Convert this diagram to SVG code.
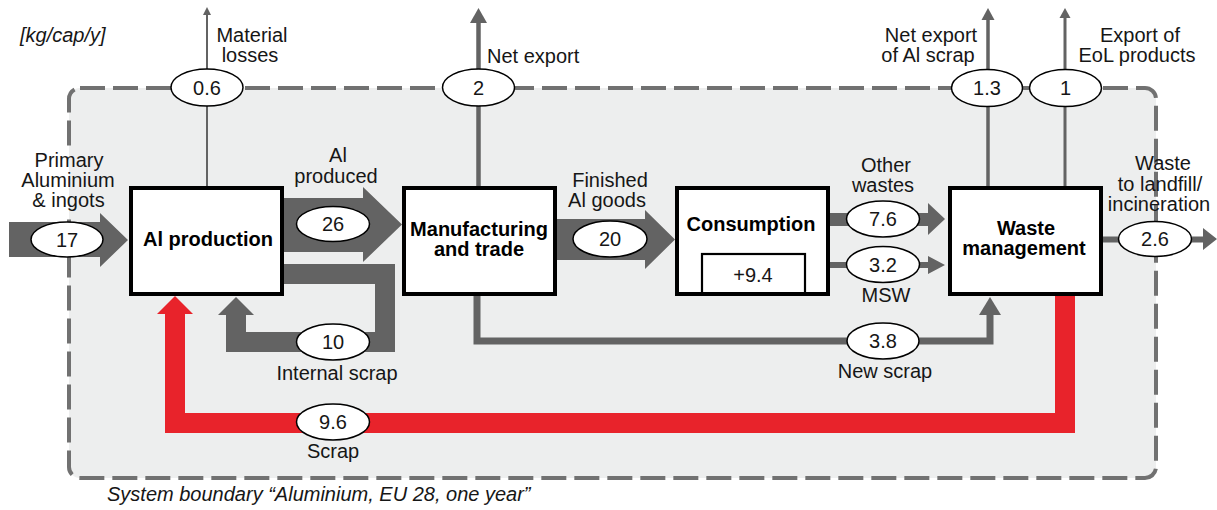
<svg xmlns="http://www.w3.org/2000/svg" width="1217" height="510" viewBox="0 0 1217 510">
<style>
.t{font-family:"Liberation Sans",Arial,sans-serif;font-size:20px;fill:#161616;text-anchor:middle}
.b{font-weight:bold;fill:#000}
.i{font-style:italic;text-anchor:start}
.box{fill:#fff;stroke:#000;stroke-width:4}
.flow{fill:#636363}
.line{fill:none;stroke:#636363;stroke-linejoin:miter}
.red{fill:none;stroke:#e8232b;stroke-width:20;stroke-linejoin:miter}
.ov{fill:#fff;stroke:#000;stroke-width:1.5}
</style>
<rect id="system-boundary" x="69" y="88" width="1087" height="390" rx="11" fill="#edeeee" stroke="#717171" stroke-width="4" stroke-dasharray="25 8"/>
<rect x="60" y="147" width="9" height="66" fill="#fff"/>
<rect x="69" y="147" width="9" height="66" fill="#edeeee"/>
<text class="t i" x="20" y="42">[kg/cap/y]</text>
<text class="t i" x="107" y="501">System boundary “Aluminium, EU 28, one year”</text>

<g id="connectors">
  <!-- top export lines -->
  <line class="line" x1="207" y1="187" x2="207" y2="14" stroke="#6b6b6b" stroke-width="2"/>
  <polygon class="flow" points="203,15 211,15 207,7"/>
  <line class="line" x1="478.5" y1="187" x2="478.5" y2="22" stroke-width="4.5"/>
  <polygon class="flow" points="470,23 487,23 478.5,8"/>
  <line class="line" x1="988" y1="187" x2="988" y2="20" stroke-width="3.5"/>
  <polygon class="flow" points="981.5,20 994.5,20 988,8"/>
  <line class="line" x1="1065" y1="187" x2="1065" y2="17" stroke-width="3"/>
  <polygon class="flow" points="1059.5,18 1070.5,18 1065,8"/>
  <!-- big flows -->
  <polygon class="flow" points="9,222 100,222 100,213 128,240 100,267 100,257 9,257"/>
  <polygon class="flow" points="284,198 363,198 363,187 402,224.5 363,262 363,252 284,252"/>
  <polygon class="flow" points="557,219 645,219 645,210 675,239.5 645,269 645,260 557,260"/>
  <polygon class="flow" points="829,213 928,213 928,203 945,219 928,235 928,226 829,226"/>
  <polygon class="flow" points="829,262 928,262 928,256 945,265 928,274 928,268 829,268"/>
  <polygon class="flow" points="1101,236.5 1203,236.5 1203,228 1217,239 1203,250 1203,242.5 1101,242.5"/>
  <!-- internal scrap loop -->
  <path class="line" d="M284,274 H385 V342 H236 V314" stroke-width="20"/>
  <polygon class="flow" points="218,315 254,315 236,297"/>
  <!-- new scrap -->
  <path class="line" d="M477,295 V341 H990 V314" stroke-width="7"/>
  <polygon class="flow" points="979,315 1001,315 990,297"/>
  <!-- scrap (red) -->
  <path class="red" d="M1065,295 V423 H175 V313"/>
  <polygon fill="#e8232b" points="157,314 193,314 175,296"/>

  <!-- flow values -->
  <g id="flow-values">
    <ellipse class="ov" cx="207" cy="87.5" rx="36" ry="18.5"/><text class="t" x="207" y="94.5">0.6</text>
    <ellipse class="ov" cx="478.5" cy="87.5" rx="36" ry="18.5"/><text class="t" x="478.5" y="94.5">2</text>
    <ellipse class="ov" cx="987" cy="88" rx="35.5" ry="18.5"/><text class="t" x="987" y="95">1.3</text>
    <ellipse class="ov" cx="1065.5" cy="88" rx="36" ry="18.5"/><text class="t" x="1065.5" y="95">1</text>
    <ellipse class="ov" cx="67" cy="239.5" rx="36" ry="17.5"/><text class="t" x="67" y="246.5">17</text>
    <ellipse class="ov" cx="333" cy="224" rx="36.5" ry="17.5"/><text class="t" x="333" y="231">26</text>
    <ellipse class="ov" cx="610" cy="239" rx="37" ry="18"/><text class="t" x="610" y="246">20</text>
    <ellipse class="ov" cx="883" cy="219" rx="36.5" ry="18"/><text class="t" x="883" y="226">7.6</text>
    <ellipse class="ov" cx="883" cy="264.5" rx="36.5" ry="18"/><text class="t" x="883" y="271.5">3.2</text>
    <ellipse class="ov" cx="1155" cy="239" rx="36.5" ry="17.5"/><text class="t" x="1155" y="246">2.6</text>
    <ellipse class="ov" cx="333" cy="342" rx="36.5" ry="18"/><text class="t" x="333" y="349">10</text>
    <ellipse class="ov" cx="333" cy="422" rx="36.5" ry="18"/><text class="t" x="333" y="429">9.6</text>
    <ellipse class="ov" cx="883" cy="341" rx="36" ry="18"/><text class="t" x="883" y="348">3.8</text>
  </g>

  <!-- flow labels -->
  <g id="flow-labels">
    <text class="t" x="252" y="42">Material</text>
    <text class="t" x="250" y="62">losses</text>
    <text class="t" x="487" y="63" style="text-anchor:start">Net export</text>
    <text class="t" x="931" y="42">Net export</text>
    <text class="t" x="928" y="62">of Al scrap</text>
    <text class="t" x="1140" y="42">Export of</text>
    <text class="t" x="1137" y="62">EoL products</text>
    <text class="t" x="69" y="167">Primary</text>
    <text class="t" x="68" y="187">Aluminium</text>
    <text class="t" x="68.5" y="207">&amp; ingots</text>
    <text class="t" x="338" y="162">Al</text>
    <text class="t" x="336" y="183">produced</text>
    <text class="t" x="610" y="187">Finished</text>
    <text class="t" x="607" y="207">Al goods</text>
    <text class="t" x="886" y="172">Other</text>
    <text class="t" x="883" y="192">wastes</text>
    <text class="t" x="886" y="302">MSW</text>
    <text class="t" x="1163" y="170">Waste</text>
    <text class="t" x="1160" y="191">to landfill/</text>
    <text class="t" x="1159" y="211">incineration</text>
    <text class="t" x="337" y="380">Internal scrap</text>
    <text class="t" x="885" y="378">New scrap</text>
    <text class="t" x="333" y="458">Scrap</text>
  </g>
</g>

<g id="node-al-production">
  <rect class="box" x="131" y="188" width="151" height="106"/>
  <text class="t b" x="208" y="246">Al production</text>
</g>
<g id="node-manufacturing-and-trade">
  <rect class="box" x="404" y="188" width="151" height="106"/>
  <text class="t b" x="479" y="236">Manufacturing</text>
  <text class="t b" x="479" y="256">and trade</text>
</g>
<g id="node-consumption">
  <rect class="box" x="677" y="188" width="151" height="106"/>
  <text class="t b" x="751" y="231">Consumption</text>
  <rect x="702" y="254" width="103" height="40" fill="none" stroke="#000" stroke-width="2.2"/>
  <text class="t" x="753" y="282">+9.4</text>
</g>
<g id="node-waste-management">
  <rect class="box" x="950" y="188" width="151" height="106"/>
  <text class="t b" x="1026" y="235">Waste</text>
  <text class="t b" x="1024" y="255">management</text>
</g>
</svg>
